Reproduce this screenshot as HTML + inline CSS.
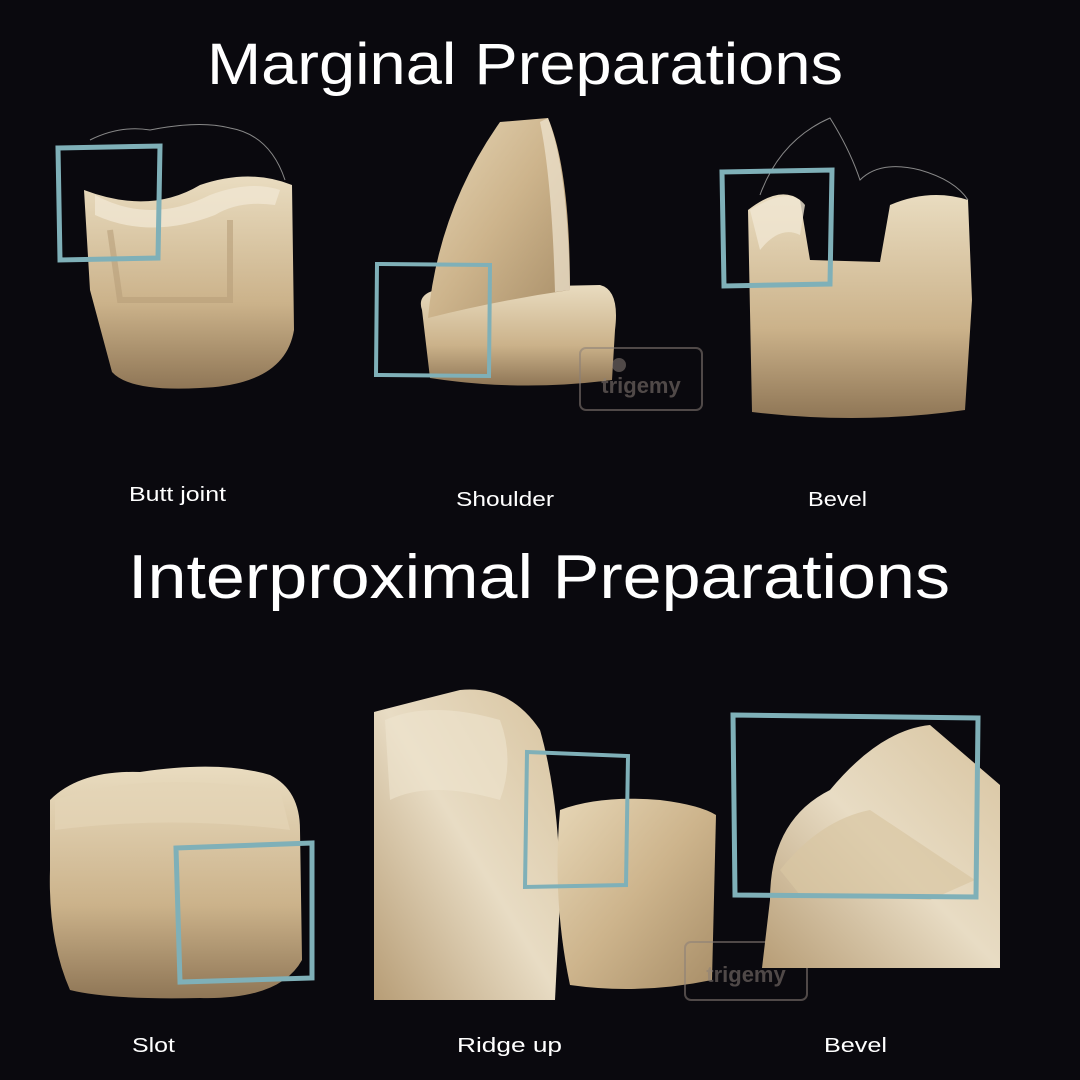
<!DOCTYPE html>
<html><head><meta charset="utf-8"><style>
html,body{margin:0;padding:0;background:#0a090e;}
svg{display:block}
text{font-family:"Liberation Sans",sans-serif;fill:#fff}
</style></head><body>
<svg width="1080" height="1080" viewBox="0 0 1080 1080" xmlns="http://www.w3.org/2000/svg">
<defs>
<linearGradient id="t" x1="0" y1="0" x2="1" y2="1">
<stop offset="0" stop-color="#e6d6b6"/><stop offset="0.5" stop-color="#cdb48c"/><stop offset="1" stop-color="#a88e68"/>
</linearGradient>
<linearGradient id="t2" x1="0" y1="0" x2="0" y2="1">
<stop offset="0" stop-color="#e9dcc0"/><stop offset="0.6" stop-color="#cbb28a"/><stop offset="1" stop-color="#8f7656"/>
</linearGradient>
<linearGradient id="t3" x1="1" y1="0" x2="0" y2="1">
<stop offset="0" stop-color="#d8c4a0"/><stop offset="0.5" stop-color="#e8dcc4"/><stop offset="1" stop-color="#b79d76"/>
</linearGradient>
</defs>
<rect width="1080" height="1080" fill="#0a090e"/>
<text x="207" y="84" font-size="58" textLength="636" lengthAdjust="spacingAndGlyphs">Marginal Preparations</text>
<text x="128" y="598" font-size="62" textLength="822" lengthAdjust="spacingAndGlyphs">Interproximal Preparations</text>

<!-- tooth 1 -->
<path d="M90,140 Q120,125 150,130 Q200,120 230,128 Q270,135 285,180" fill="none" stroke="#888" stroke-width="1"/>
<path d="M84,190 Q150,215 200,185 Q250,168 292,185 L294,330 Q285,385 200,388 Q130,392 112,372 L90,290 Z" fill="url(#t2)"/>
<path d="M95,195 Q150,225 210,195 Q250,180 280,190 L275,205 Q240,200 215,215 Q150,240 95,215Z" fill="#f0e6d2" opacity="0.8"/>
<path d="M110,230 L120,300 L230,300 L230,220" fill="none" stroke="#b79f7a" stroke-width="6" opacity="0.6"/>
<path d="M58,148 L160,146 L158,258 L60,260 Z" fill="none" stroke="#7fb0b8" stroke-width="5"/>

<!-- tooth 2 -->
<path d="M422,310 Q415,290 450,288 L600,285 Q620,290 615,330 L612,380 Q520,392 430,378 Z" fill="url(#t2)"/>
<path d="M500,122 L548,118 Q570,170 570,290 Q500,300 428,318 Q438,210 500,122Z" fill="url(#t)"/>
<path d="M548,118 Q568,170 570,290 L555,292 Q552,180 540,122Z" fill="#f0e6d2" opacity="0.7"/>
<path d="M377,264 L490,265 L489,376 L376,375 Z" fill="none" stroke="#7fb0b8" stroke-width="4"/>
<g opacity="0.55">
<rect x="580" y="348" width="122" height="62" rx="6" fill="none" stroke="#8a7f78" stroke-width="2"/>
<circle cx="619" cy="365" r="7" fill="#8a7f78"/>
<text x="641" y="393" font-size="22" font-weight="bold" text-anchor="middle" style="fill:#8a7f78">trigemy</text>
</g>

<!-- tooth 3 -->
<path d="M760,195 Q780,140 830,118 Q850,150 860,180 Q880,160 920,170 Q955,180 968,200" fill="none" stroke="#888" stroke-width="1"/>
<path d="M748,210 Q780,185 800,200 L810,260 L880,262 L890,205 Q930,188 968,200 L972,300 L965,410 Q860,425 752,412 Z" fill="url(#t2)"/>
<path d="M750,210 Q790,185 805,205 L800,235 Q780,225 760,250Z" fill="#f0e6d2" opacity="0.8"/>
<path d="M722,172 L832,170 L830,284 L724,286 Z" fill="none" stroke="#7fb0b8" stroke-width="5"/>

<text x="129" y="501" font-size="20" textLength="97" lengthAdjust="spacingAndGlyphs">Butt joint</text>
<text x="456" y="506" font-size="20" textLength="98" lengthAdjust="spacingAndGlyphs">Shoulder</text>
<text x="808" y="506" font-size="20" textLength="59" lengthAdjust="spacingAndGlyphs">Bevel</text>

<!-- slot -->
<path d="M50,800 Q80,770 140,772 Q220,760 270,775 Q300,790 300,830 L302,960 Q280,1000 200,998 Q110,1000 70,990 Q48,940 50,870Z" fill="url(#t2)"/>
<path d="M55,800 Q140,770 280,790 L290,830 Q170,815 55,830Z" fill="#e4d4b6" opacity="0.7"/>
<path d="M176,848 L312,843 L312,978 L180,982 Z" fill="none" stroke="#7fb0b8" stroke-width="5"/>

<!-- ridge up -->
<path d="M374,712 Q420,700 460,690 Q510,685 540,730 Q560,800 560,900 L555,1000 L374,1000 Z" fill="url(#t3)"/>
<path d="M385,720 Q430,700 500,720 Q515,760 500,800 Q430,780 390,800Z" fill="#efe4ce" opacity="0.6"/>
<path d="M560,810 Q600,795 660,800 Q700,805 716,815 L712,980 Q640,995 570,985 Q552,900 560,810Z" fill="url(#t)"/>
<path d="M527,752 L628,756 L626,885 L525,887 Z" fill="none" stroke="#7fb0b8" stroke-width="4"/>
<g opacity="0.55">
<rect x="685" y="942" width="122" height="58" rx="6" fill="none" stroke="#8a7f78" stroke-width="2"/>
<text x="746" y="982" font-size="22" font-weight="bold" text-anchor="middle" style="fill:#8a7f78">trigemy</text>
</g>

<!-- bevel -->
<path d="M770,900 Q770,820 830,790 Q880,730 930,725 L1000,785 L1000,968 L762,968 Z" fill="url(#t3)"/>
<path d="M780,870 Q820,820 870,810 L975,880 L930,900 L800,895Z" fill="#d9c6a2" opacity="0.7"/>
<path d="M733,715 L978,718 L976,897 L735,895 Z" fill="none" stroke="#7fb0b8" stroke-width="5"/>

<text x="132" y="1052" font-size="20" textLength="43" lengthAdjust="spacingAndGlyphs">Slot</text>
<text x="457" y="1052" font-size="20" textLength="105" lengthAdjust="spacingAndGlyphs">Ridge up</text>
<text x="824" y="1052" font-size="20" textLength="63" lengthAdjust="spacingAndGlyphs">Bevel</text>
</svg>
</body></html>
